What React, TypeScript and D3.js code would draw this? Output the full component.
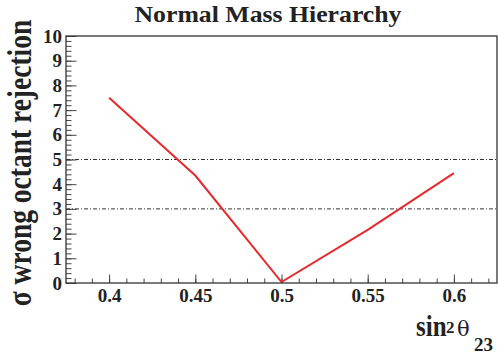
import React, { useEffect, useRef } from 'react';
import * as d3 from 'd3';

// sin^2(theta23) values and sigma of wrong-octant rejection (NH)
const sin2Theta = [0.4, 0.45, 0.5, 0.55, 0.6];
const sigmaReject = [7.5, 4.35, 0.04, 2.15, 4.45];
const refLevels = [3, 5];
const xTicks = [0.4, 0.45, 0.5, 0.55, 0.6];
const xTickLabels = ['0.4', '0.45', '0.5', '0.55', '0.6'];
const yTicks = [0, 1, 2, 3, 4, 5, 6, 7, 8, 9, 10];

const W = 498;
const H = 355;
const M = { left: 66, right: 1, top: 36, bottom: 72 };
const FONT = '"Liberation Serif", "Times New Roman", serif';

const App = () => {
  const svgRef = useRef<SVGSVGElement>(null);

  useEffect(() => {
    const svg = d3.select(svgRef.current);
    svg.selectAll('*').remove();

    const x = d3.scaleLinear().domain([0.375, 0.625]).range([M.left, W - M.right]);
    const y = d3.scaleLinear().domain([0, 10]).range([H - M.bottom, M.top]);
    const x0 = M.left;
    const x1 = W - M.right;
    const y0 = H - M.bottom;

    svg.append('rect').attr('width', W).attr('height', H).attr('fill', '#fff');

    // minor ticks
    const xMinor = d3.range(0.38, 0.6251, 0.01);
    svg
      .append('g')
      .attr('transform', `translate(0,${y0})`)
      .call(d3.axisBottom(x).tickValues(xMinor).tickSizeInner(-4.5).tickSizeOuter(0).tickFormat(() => ''))
      .call((g) => g.select('.domain').remove())
      .call((g) => g.selectAll('line').attr('stroke', '#444'));

    const yMinor = d3.range(0, 10.01, 0.2);
    svg
      .append('g')
      .attr('transform', `translate(${x0},0)`)
      .call(d3.axisLeft(y).tickValues(yMinor).tickSizeInner(-5.5).tickSizeOuter(0).tickFormat(() => ''))
      .call((g) => g.select('.domain').remove())
      .call((g) => g.selectAll('line').attr('stroke', '#444'));

    // major ticks + labels
    svg
      .append('g')
      .attr('transform', `translate(0,${y0})`)
      .call(
        d3
          .axisBottom(x)
          .tickValues(xTicks)
          .tickSizeInner(-8.5)
          .tickSizeOuter(0)
          .tickPadding(6)
          .tickFormat((d, i) => xTickLabels[i])
      )
      .call((g) => g.select('.domain').remove())
      .call((g) => g.selectAll('line').attr('stroke', '#444'))
      .call((g) =>
        g.selectAll('text').attr('font-family', FONT).attr('font-weight', 'bold').attr('font-size', 19).attr('fill', '#222')
      );

    svg
      .append('g')
      .attr('transform', `translate(${x0},0)`)
      .call(d3.axisLeft(y).tickValues(yTicks).tickSizeInner(-10.5).tickSizeOuter(0).tickPadding(4))
      .call((g) => g.select('.domain').remove())
      .call((g) => g.selectAll('line').attr('stroke', '#444'))
      .call((g) =>
        g.selectAll('text').attr('font-family', FONT).attr('font-weight', 'bold').attr('font-size', 19).attr('fill', '#222')
      );

    // dash-dot reference levels
    svg
      .selectAll('.ref')
      .data(refLevels)
      .enter()
      .append('line')
      .attr('x1', x0)
      .attr('x2', x1)
      .attr('y1', (d) => y(d))
      .attr('y2', (d) => y(d))
      .attr('stroke', '#333')
      .attr('stroke-width', 1)
      .attr('stroke-dasharray', '4 2 1 2');

    // curve
    const line = d3
      .line<number>()
      .x((d, i) => x(sin2Theta[i]))
      .y((d) => y(d));
    svg
      .append('path')
      .datum(sigmaReject)
      .attr('d', line)
      .attr('fill', 'none')
      .attr('stroke', '#e8282c')
      .attr('stroke-width', 2);

    // frame
    svg
      .append('rect')
      .attr('x', x0)
      .attr('y', M.top)
      .attr('width', x1 - x0)
      .attr('height', y0 - M.top)
      .attr('fill', 'none')
      .attr('stroke', '#333')
      .attr('stroke-width', 1.3);

    // title
    svg
      .append('text')
      .attr('transform', 'translate(268,22) scale(1.12,1)')
      .attr('text-anchor', 'middle')
      .attr('font-family', FONT)
      .attr('font-weight', 'bold')
      .attr('font-size', 23)
      .attr('fill', '#222')
      .text('Normal Mass Hierarchy');

    // y title (glyphs a bit taller across, as in the reference)
    svg
      .append('text')
      .attr('transform', 'translate(31,163) rotate(-90) scale(1,1.25)')
      .attr('text-anchor', 'middle')
      .attr('font-family', FONT)
      .attr('font-weight', 'bold')
      .attr('font-size', 27.5)
      .attr('fill', '#222')
      .text('\u03c3 wrong octant rejection');

    // x title: sin^2 theta_23
    const xt = svg.append('g').attr('font-family', FONT).attr('font-weight', 'bold').attr('fill', '#222');
    xt.append('text').attr('transform', 'translate(416,336) scale(1,1.15)').attr('font-size', 25).text('sin');
    xt.append('text').attr('x', 446).attr('y', 333).attr('font-size', 17).text('2');
    xt.append('text').attr('x', 457).attr('y', 336).attr('font-size', 21).attr('font-weight', 'normal').attr('font-family', '"DejaVu Serif", serif').text('\u03b8');
    xt.append('text').attr('x', 474).attr('y', 351).attr('font-size', 19).text('23');
  }, []);

  return (
    <svg
      ref={svgRef}
      width={W}
      height={H}
      style={{ position: 'absolute', left: 0, top: 0, display: 'block' }}
    ></svg>
  );
};

export default App;
